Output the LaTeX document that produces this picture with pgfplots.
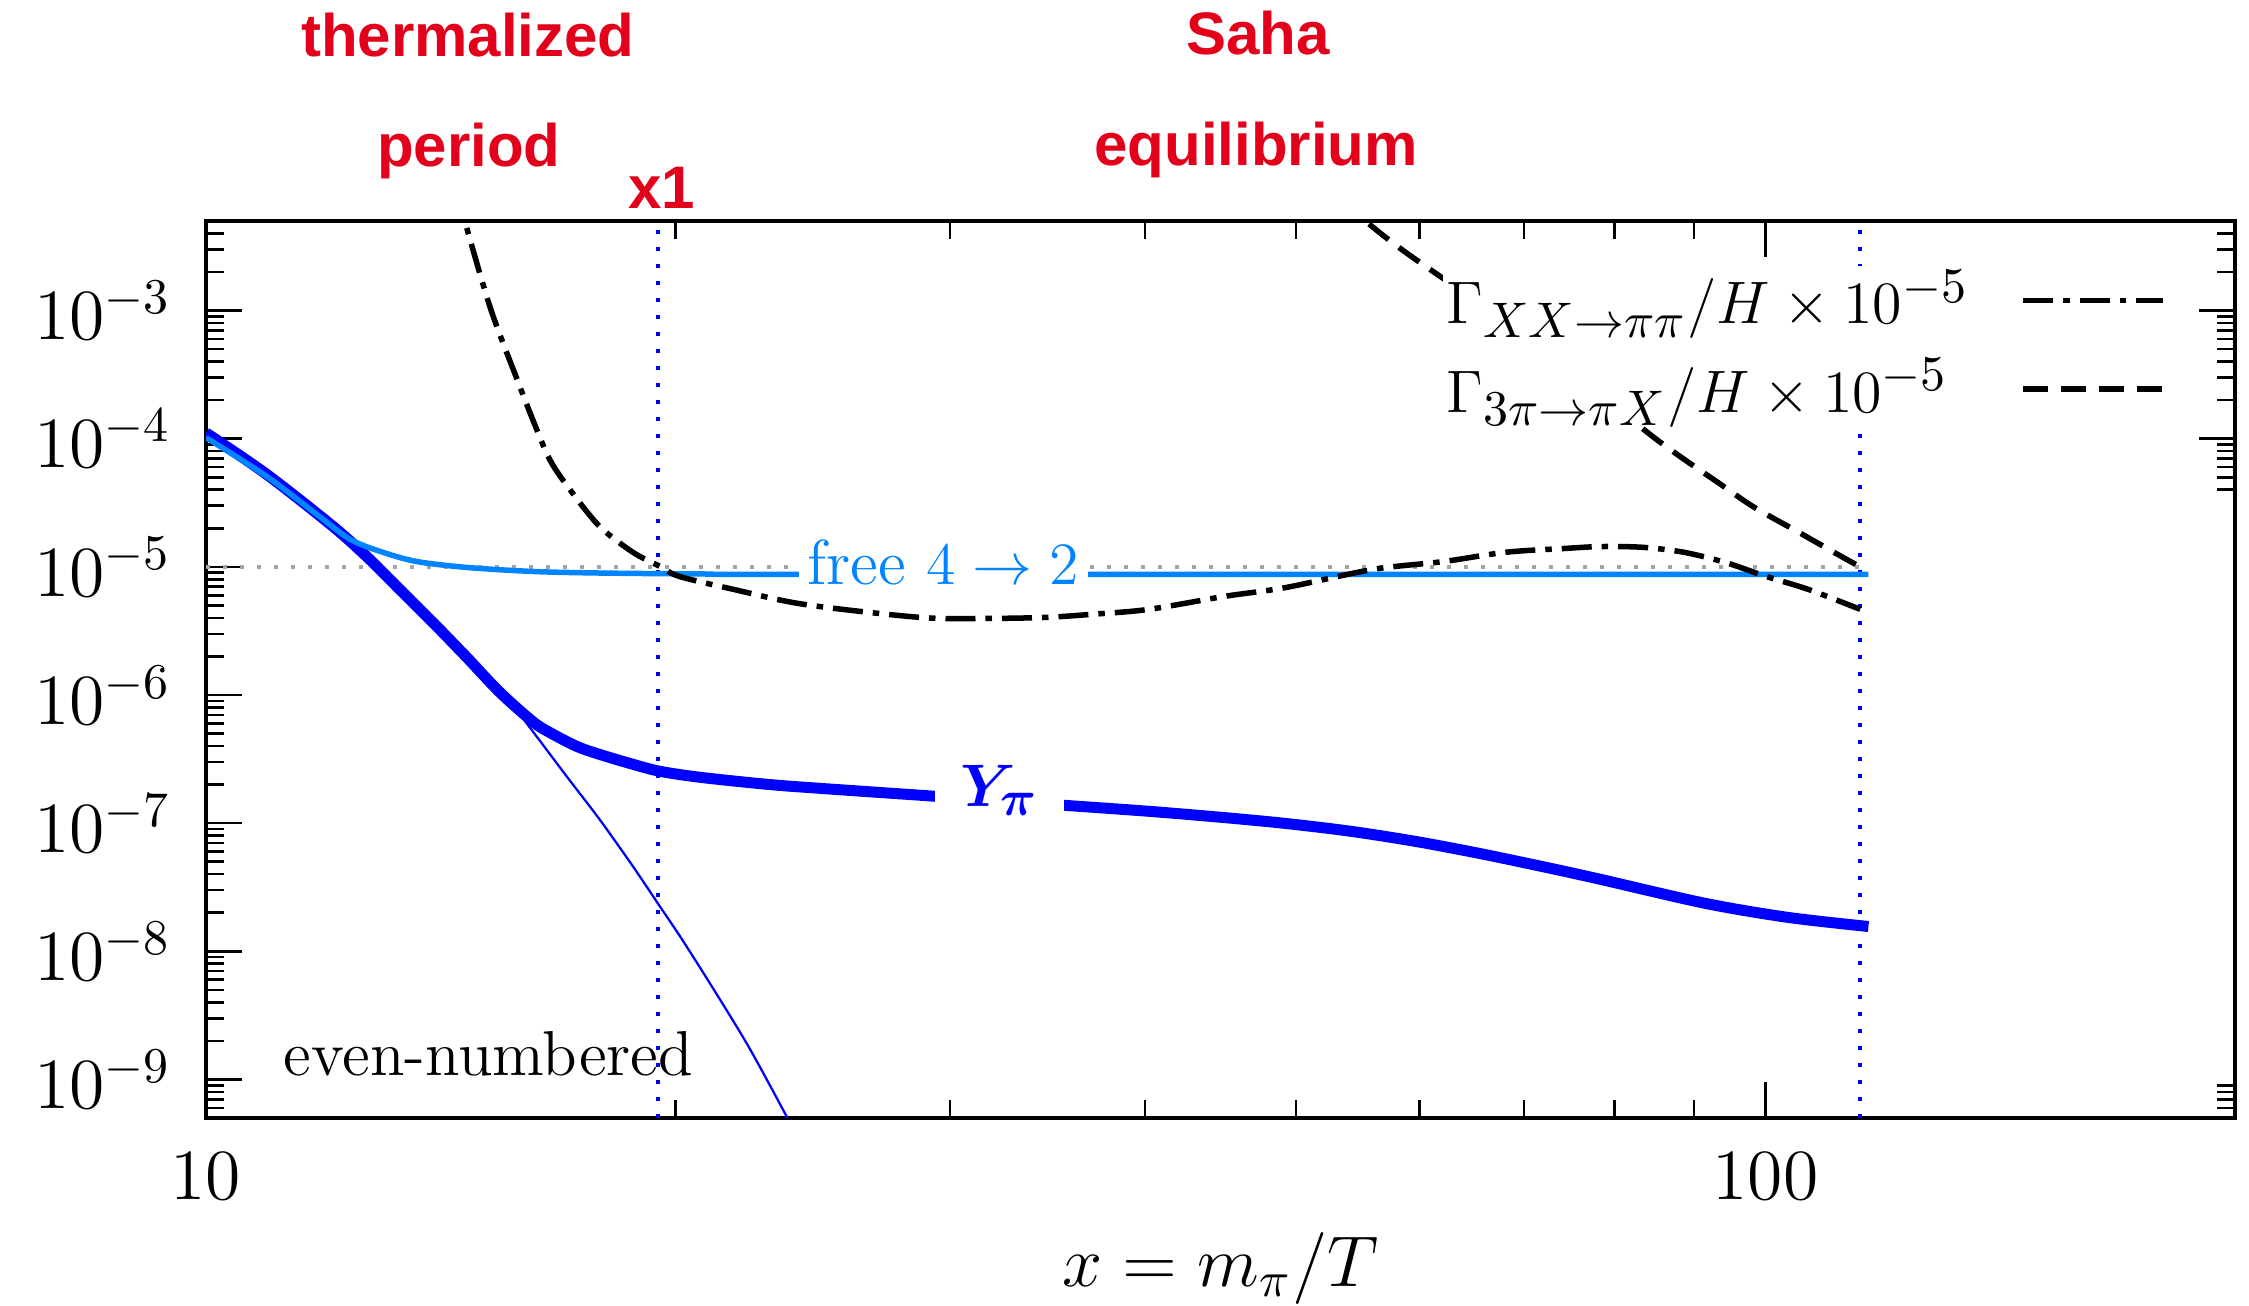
\documentclass[border=0pt]{standalone}
\usepackage{pgfplots}
\pgfplotsset{compat=1.18}
\usepackage{bm}
\usepackage{fontspec}
\newfontfamily\annfont{Liberation Sans}
\DeclareMathSizes{12}{12}{10}{7}

\definecolor{ybl}{RGB}{0,0,255}
\definecolor{fbl}{RGB}{0,132,255}
\definecolor{ann}{RGB}{227,0,27}
\definecolor{grd}{RGB}{165,165,165}

\newcommand\epfont{\fontsize{12}{14}\selectfont\annfont\bfseries}
\newcommand\lblfont{\fontsize{12}{14}\selectfont}
\newcommand\txtfont{\fontsize{12.7}{15}\selectfont}
\newcommand\tckfont{\fontsize{14.4}{17}\selectfont}

\tikzset{
  epoch/.style={text=ann, anchor=base, inner sep=0pt, font=\epfont},
  gdash/.style={black, line width=1.1pt, dash pattern=on 6pt off 2pt on 1.3pt off 2pt},
  gdashed/.style={black, line width=1.1pt, dash pattern=on 5pt off 2.6pt},
  dotline/.style={line width=0.8pt, dash pattern=on 0.7pt off 2.7pt},
}
\pgfplotsset{legend image code/.code={\draw[#1] (0pt,0pt) -- (28pt,0pt);}}

\begin{document}
\begin{tikzpicture}
\begin{axis}[
  name=main,
  scale only axis, width=405.8pt, height=179.4pt,
  xmode=log, ymode=log,
  xmin=10, xmax=200, ymin=5e-10, ymax=5e-3,
  tick align=inside,
  major tick length=7.2pt, minor tick length=3.6pt,
  tick style={black, line width=0.5pt},
  axis line style={line width=0.7pt},
  xtick={10,100}, xticklabels={$10$,$100$},
  minor xtick={20,30,40,50,60,70,80,90},
  ytick={1e-9,1e-8,1e-7,1e-6,1e-5,1e-4,1e-3},
  minor ytick={6e-10,7e-10,8e-10,9e-10,
    2e-9,3e-9,4e-9,5e-9,6e-9,7e-9,8e-9,9e-9,
    2e-8,3e-8,4e-8,5e-8,6e-8,7e-8,8e-8,9e-8,
    2e-7,3e-7,4e-7,5e-7,6e-7,7e-7,8e-7,9e-7,
    2e-6,3e-6,4e-6,5e-6,6e-6,7e-6,8e-6,9e-6,
    2e-5,3e-5,4e-5,5e-5,6e-5,7e-5,8e-5,9e-5,
    2e-4,3e-4,4e-4,5e-4,6e-4,7e-4,8e-4,9e-4,
    2e-3,3e-3,4e-3},
  ytick pos=left,
  tick label style={font=\tckfont},
  xticklabel style={yshift=-3.4pt},
  yticklabel style={xshift=-3.4pt},
  xlabel={$x = m_\pi/T$},
  xlabel style={font=\tckfont, at={(0.5,-0.1873)}, anchor=base, inner sep=0pt},
  clip mode=individual,
  legend plot pos=right,
  legend cell align=left,
  legend style={at={(0.9665,0.951)}, anchor=north east, draw=none, fill=white,
    inner sep=0pt, nodes={inner sep=0.8pt, fill=white}, row sep=3.8pt, column sep=9.6pt,
    font=\lblfont},
]
% reference level and the two boundaries x1, x_end
\addplot[grd, dotline, forget plot] coordinates {(10,1e-5) (115,1e-5)};
\addplot[ybl, dotline, forget plot] coordinates {(19.5,5e-10) (19.5,5e-3)};
\addplot[ybl, dotline, forget plot] coordinates {(115,5e-10) (115,5e-3)};

% Y_pi, full solution
\addplot[ybl, line width=2.2pt, smooth, forget plot] coordinates {
  (10,1.11e-4) (10.94,5.26e-5) (12.06,2.07e-5) (12.68,1.20e-5) (13.31,6.67e-6)
  (13.98,3.68e-6) (14.70,1.96e-6) (15.43,1.05e-6) (16.20,6.2e-7) (16.61,5.10e-7)
  (17.29,3.97e-7) (17.88,3.44e-7) (18.78,2.88e-7) (19.54,2.54e-7) (20.73,2.28e-7)
  (22.88,2.01e-7) (24.73,1.87e-7) (29.79,1.60e-7) (35.44,1.38e-7) (40.25,1.236e-7)
  (44.43,1.119e-7) (48.97,1.001e-7) (54.07,8.67e-8) (59.69,7.19e-8) (65.78,5.75e-8)
  (72.61,4.47e-8) (78.16,3.67e-8) (91.41,2.37e-8) (103.3,1.84e-8) (116.4,1.56e-8)};

% Y_pi without number-changing processes
\addplot[ybl, line width=0.45pt, smooth, forget plot] coordinates {
  (10,1.11e-4) (10.94,5.26e-5) (12.06,2.07e-5) (12.68,1.20e-5) (13.31,6.67e-6)
  (13.98,3.68e-6) (14.70,1.96e-6) (15.43,1.05e-6) (15.90,7.0e-7) (17.03,2.32e-7)
  (17.88,1.07e-7) (18.78,4.61e-8) (19.54,2.25e-8) (20.21,1.22e-8) (21.26,4.6e-9)
  (22.31,1.75e-9) (23.56,5.17e-10) (24.02,3.24e-10)};

% free 4 -> 2
\addplot[fbl, line width=1.1pt, smooth, forget plot] coordinates {
  (10,1.02e-4) (10.94,5.07e-5) (11.78,2.56e-5) (12.37,1.64e-5) (12.98,1.30e-5)
  (13.65,1.10e-5) (14.70,9.89e-6) (16.20,9.2e-6) (17.88,8.95e-6) (20.73,8.8e-6)
  (25,8.72e-6) (116.4,8.72e-6)};

% rates
\addplot[gdash, smooth] coordinates {
  (14.46,8.8e-3) (14.65,5.03e-3) (15.22,1.04e-3) (15.85,2.79e-4) (16.20,1.41e-4)
  (16.61,6.89e-5) (17.11,4.02e-5) (17.88,2.07e-5) (18.78,1.30e-5) (19.54,1.01e-5)
  (20.12,8.41e-6) (21.79,6.67e-6) (24.19,5.09e-6) (28.71,4.03e-6) (31.70,3.96e-6)
  (34.52,4.03e-6) (36.89,4.25e-6) (40.19,4.65e-6) (44.97,5.88e-6) (49.26,6.90e-6)
  (56.01,9.55e-6) (62.17,1.10e-5) (68.15,1.30e-5) (74.25,1.39e-5) (78.43,1.44e-5)
  (83.43,1.42e-5) (88.62,1.30e-5) (94.28,1.08e-5) (100.1,8.41e-6) (106.5,6.67e-6)
  (115,4.66e-6)};
\addlegendentry{$\Gamma_{XX\to\pi\pi}/H\times10^{-5}$}

\addplot[gdashed, smooth] coordinates {
  (53.27,7.2e-3) (55.44,4.94e-3) (59.06,2.73e-3) (72.20,4.97e-4) (84.65,1.04e-4)
  (94.00,4.24e-5) (98.4,2.90e-5) (105.1,1.85e-5) (111.9,1.20e-5) (115,1.0e-5)};
\addlegendentry{$\Gamma_{3\pi\to\pi X}/H\times10^{-5}$}
\end{axis}

% ticks on the right-hand side
\begin{axis}[
  scale only axis, width=405.8pt, height=179.4pt,
  xmode=log, ymode=log,
  xmin=10, xmax=200, ymin=5e-10, ymax=5e-3,
  axis x line=none, axis y line*=right,
  tick align=inside,
  major tick length=7.2pt, minor tick length=3.6pt,
  tick style={black, line width=0.5pt},
  axis line style={line width=0.7pt},
  ytick={1e-4,1e-3}, yticklabels={},
  tick label style={overlay},
  minor ytick={4e-5,5e-5,6e-5,7e-5,8e-5,9e-5,
    2e-4,3e-4,4e-4,5e-4,6e-4,7e-4,8e-4,9e-4,
    2e-3,3e-3,4e-3,6e-10,7e-10,8e-10,9e-10},
]
\end{axis}

% canvas extent
\path ([xshift=-41.2pt,yshift=-37.6pt]main.south west) rectangle ([xshift=2.8pt,yshift=44.2pt]main.north east);

% curve labels
\node[fill=white, inner xsep=1.8pt, inner ysep=1pt, anchor=base, text=fbl, font=\txtfont]
  at ([xshift=147.43pt,yshift=106.60pt]main.south west) {free $4\to2$};
\node[fill=white, inner xsep=5pt, inner ysep=1pt, anchor=base, text=ybl, font=\lblfont]
  at ([xshift=158.79pt,yshift=62.20pt]main.south west) {$\bm{Y_{\pi}}$};
\node[anchor=base west, font=\txtfont]
  at ([xshift=12.01pt,yshift=8.40pt]main.south west) {even-numbered};

% epochs
\node[epoch] at ([xshift=52.39pt,yshift=212.21pt]main.south west) {thermalized};
\node[epoch] at ([xshift=52.59pt,yshift=190.20pt]main.south west) {period};
\node[epoch] at ([xshift=91.18pt,yshift=181.80pt]main.south west) {x1};
\node[epoch] at ([xshift=210.41pt,yshift=212.61pt]main.south west) {Saha};
\node[epoch] at ([xshift=210.00pt,yshift=190.59pt]main.south west) {equilibrium};
\end{tikzpicture}
\end{document}
